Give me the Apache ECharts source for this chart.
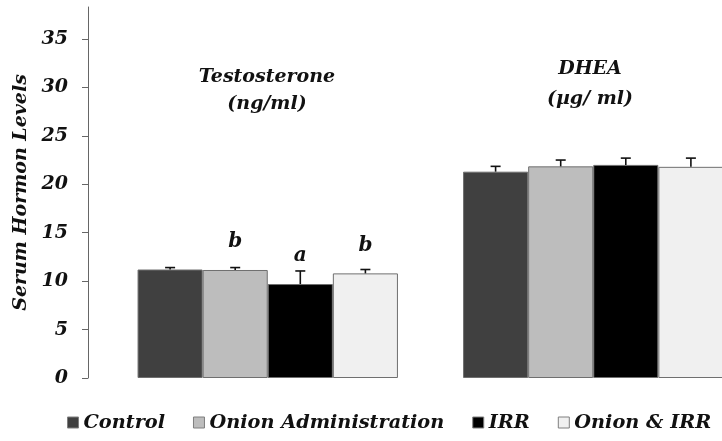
<!DOCTYPE html>
<html>
<head>
<meta charset="utf-8">
<script src="https://cdn.jsdelivr.net/npm/echarts@6/dist/echarts.min.js"></script>
<style>html,body{margin:0;padding:0;background:#fff;}#c{width:722px;height:441px;}</style>
</head>
<body>
<div id="c"></div>
<script>
var categories = ['Testosterone', 'DHEA'];
var seriesNames = ['Control', 'Onion Administration', 'IRR', 'Onion & IRR'];
var controlVals = [11.2, 21.3];
var onionVals = [11.15, 21.85];
var irrVals = [9.7, 22.0];
var onionIrrVals = [10.8, 21.8];
var controlErr = [0.2, 0.55];
var onionErr = [0.25, 0.65];
var irrErr = [1.35, 0.7];
var onionIrrErr = [0.4, 0.9];
var controlLetters = ['', ''];
var onionLetters = ['b', ''];
var irrLetters = ['a', ''];
var onionIrrLetters = ['b', ''];
var yTicks = [0, 5, 10, 15, 20, 25, 30, 35];

var allVals = [controlVals, onionVals, irrVals, onionIrrVals];
var allErr = [controlErr, onionErr, irrErr, onionIrrErr];
var allLetters = [controlLetters, onionLetters, irrLetters, onionIrrLetters];
var colors = ['#404040', '#bdbdbd', '#000000', '#f0f0f0'];
var FONT = '"DejaVu Serif", "Liberation Serif", serif';
var BAR_FRAC = 0.2;

var chart = echarts.init(document.getElementById('c'));

var series = [];
allVals.forEach(function (vals, si) {
  series.push({
    name: seriesNames[si],
    type: 'bar',
    data: vals,
    barWidth: (BAR_FRAC * 100) + '%',
    barGap: '0%',
    itemStyle: { color: colors[si], borderColor: '#6f6f6f', borderWidth: 1 },
    label: {
      show: true,
      position: 'top',
      distance: 18,
      formatter: function (p) { return allLetters[si][p.dataIndex]; },
      fontFamily: FONT, fontStyle: 'italic', fontWeight: 'bold', fontSize: 20, color: '#111'
    },
    emphasis: { disabled: true },
    z: 2
  });
});

var errData = [];
allVals.forEach(function (vals, si) {
  vals.forEach(function (v, ci) {
    errData.push([ci, v, v + allErr[si][ci], si]);
  });
});

series.push({
  type: 'custom',
  data: errData,
  z: 5,
  silent: true,
  renderItem: function (params, api) {
    var ci = api.value(0), si = api.value(3);
    var base = api.coord([ci, api.value(1)]);
    var top = api.coord([ci, api.value(2)]);
    var band = api.size([1, 0])[0];
    var bw = band * BAR_FRAC;
    var x = base[0] + (si - 1.5) * bw;
    var cap = 5;
    var st = { stroke: '#111', lineWidth: 1.6 };
    return {
      type: 'group',
      children: [
        { type: 'line', shape: { x1: x, y1: base[1], x2: x, y2: top[1] }, style: st },
        { type: 'line', shape: { x1: x - cap, y1: top[1], x2: x + cap, y2: top[1] }, style: st }
      ]
    };
  }
});

var option = {
  animation: false,
  backgroundColor: '#ffffff',
  title: [
    { text: 'Testosterone\n(ng/ml)', left: 267, top: 64, textAlign: 'center', padding: 0,
      textStyle: { fontFamily: FONT, fontStyle: 'italic', fontWeight: 'bold', fontSize: 19, lineHeight: 27, color: '#111' } },
    { text: 'DHEA\n(\u00b5g/ ml)', left: 590, top: 54, textAlign: 'center', padding: 0,
      textStyle: { fontFamily: FONT, fontStyle: 'italic', fontWeight: 'bold', fontSize: 19, lineHeight: 30, color: '#111' } }
  ],
  legend: {
    data: seriesNames,
    left: 67,
    top: 413,
    padding: 0,
    itemWidth: 11,
    itemHeight: 11,
    itemGap: 28,
    icon: 'rect',
    itemStyle: { borderColor: '#7f7f7f', borderWidth: 1 },
    textStyle: { fontFamily: FONT, fontStyle: 'italic', fontWeight: 'bold', fontSize: 19.3, color: '#111' }
  },
  grid: { left: 105, width: 651, top: 7, bottom: 63, containLabel: false, outerBoundsMode: 'none' },
  xAxis: {
    type: 'category',
    data: categories,
    axisLine: { show: false },
    axisTick: { show: false },
    axisLabel: { show: false }
  },
  yAxis: {
    type: 'value',
    min: 0,
    max: 38.3,
    offset: 17,
    name: 'Serum Hormon Levels',
    nameLocation: 'middle',
    nameGap: 45,
    nameTextStyle: { fontFamily: FONT, fontStyle: 'italic', fontWeight: 'bold', fontSize: 19, color: '#111' },
    axisLine: { show: true, lineStyle: { color: '#666', width: 1 } },
    axisTick: { show: true, length: 6, lineStyle: { color: '#666' }, customValues: yTicks },
    axisLabel: { margin: 20, customValues: yTicks, fontFamily: FONT, fontStyle: 'italic', fontWeight: 'bold', fontSize: 19, color: '#111' },
    splitLine: { show: false }
  },
  series: series
};
chart.setOption(option);
</script>
</body>
</html>
